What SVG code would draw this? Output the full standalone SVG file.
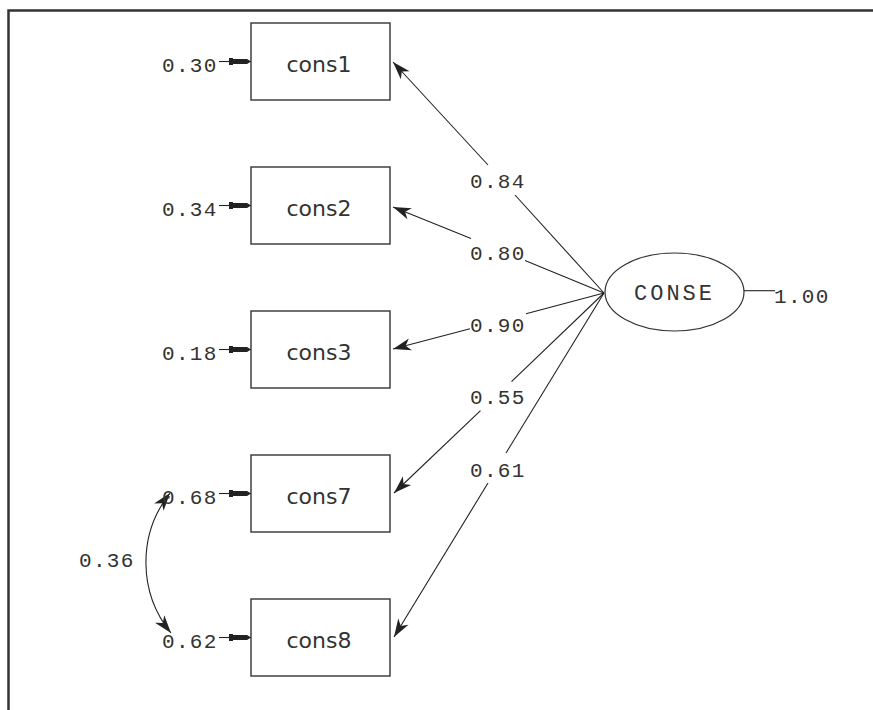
<svg xmlns="http://www.w3.org/2000/svg" width="873" height="710" viewBox="0 0 873 710">
<style>
.frame{fill:none;stroke:#333;stroke-width:2.5}
.box{fill:#fff;stroke:#333;stroke-width:1.4}
.lbl{font-family:"DejaVu Sans",sans-serif;font-size:22px;fill:#333;text-anchor:middle}
.num{font-family:"Liberation Mono",monospace;font-size:21px;letter-spacing:1.3px;fill:#333}
.lat{font-family:"Liberation Mono",monospace;font-size:22px;letter-spacing:3px;fill:#333}
.ln{fill:none;stroke:#222;stroke-width:1.1}
.arr{marker-end:url(#ah)}
.err{marker-end:url(#eh)}
</style>
<defs>
<marker id="ah" markerUnits="userSpaceOnUse" markerWidth="22" markerHeight="14" viewBox="0 -7 20 14" refX="18" refY="0" orient="auto-start-reverse">
<path d="M0,-6 L18,0 L0,6 L5,0 z" fill="#222"/>
</marker>
<marker id="eh" markerUnits="userSpaceOnUse" markerWidth="24" markerHeight="8" viewBox="0 -4 23 8" refX="22" refY="0" orient="auto">
<path d="M0,-3.5 L4,-3.5 L4,-2.5 L18,-2.5 L22,0 L18,2.5 L4,2.5 L4,3.5 L0,3.5 z" fill="#222"/>
</marker>
</defs>
<rect width="873" height="710" fill="#fff"/>
<path class="frame" d="M8.5,710 L8.5,10.5 L873,10.5"/>

<g id="connectors">
<path class="ln" d="M604,293 L515,195"/>
<path class="ln arr" d="M488,165 L393,62"/>
<path class="ln" d="M604,293 L525,260.5"/>
<path class="ln arr" d="M471,238.5 L393,207"/>
<path class="ln" d="M604,293 L526,313.8"/>
<path class="ln arr" d="M470,328.7 L393,349"/>
<path class="ln" d="M604,293 L511.5,381.7"/>
<path class="ln arr" d="M480.5,410.7 L394,493"/>
<path class="ln" d="M604,293 L506,453"/>
<path class="ln arr" d="M488,483 L394,637"/>
<path class="ln" d="M744,290.7 L775,290.7"/>
<path class="ln err" d="M219,61.5 L251,61.5"/>
<path class="ln err" d="M219,205.5 L251,205.5"/>
<path class="ln err" d="M219,349.5 L251,349.5"/>
<path class="ln err" d="M219,493.5 L251,493.5"/>
<path class="ln err" d="M219,637.5 L251,637.5"/>
<path class="ln" d="M170,493 A112,112 0 0 0 171,633" marker-start="url(#ah)" marker-end="url(#ah)"/>
<text class="num" x="470" y="188">0.84</text>
<text class="num" x="470" y="260">0.80</text>
<text class="num" x="470" y="332">0.90</text>
<text class="num" x="470" y="404">0.55</text>
<text class="num" x="470" y="476.5">0.61</text>
<text class="num" x="79" y="566.7">0.36</text>
</g>

<g id="cons1">
<rect class="box" x="251" y="23" width="139" height="77"/>
<text class="lbl" x="319" y="72">cons1</text>
<text class="num" x="162" y="72">0.30</text>
</g>
<g id="cons2">
<rect class="box" x="251" y="167" width="139" height="77"/>
<text class="lbl" x="319" y="216">cons2</text>
<text class="num" x="162" y="216">0.34</text>
</g>
<g id="cons3">
<rect class="box" x="251" y="311" width="139" height="77"/>
<text class="lbl" x="319" y="360">cons3</text>
<text class="num" x="162" y="360">0.18</text>
</g>
<g id="cons7">
<rect class="box" x="251" y="455" width="139" height="77"/>
<text class="lbl" x="319" y="504">cons7</text>
<text class="num" x="162" y="504">0.68</text>
</g>
<g id="cons8">
<rect class="box" x="251" y="599" width="139" height="77"/>
<text class="lbl" x="319" y="648">cons8</text>
<text class="num" x="162" y="648">0.62</text>
</g>
<g id="CONSE">
<ellipse cx="674.5" cy="292" rx="69.5" ry="39" fill="#fff" stroke="#333" stroke-width="1.2"/>
<text class="lat" x="634" y="299.5">CONSE</text>
<text class="num" x="774" y="302.5">1.00</text>
</g>
</svg>
